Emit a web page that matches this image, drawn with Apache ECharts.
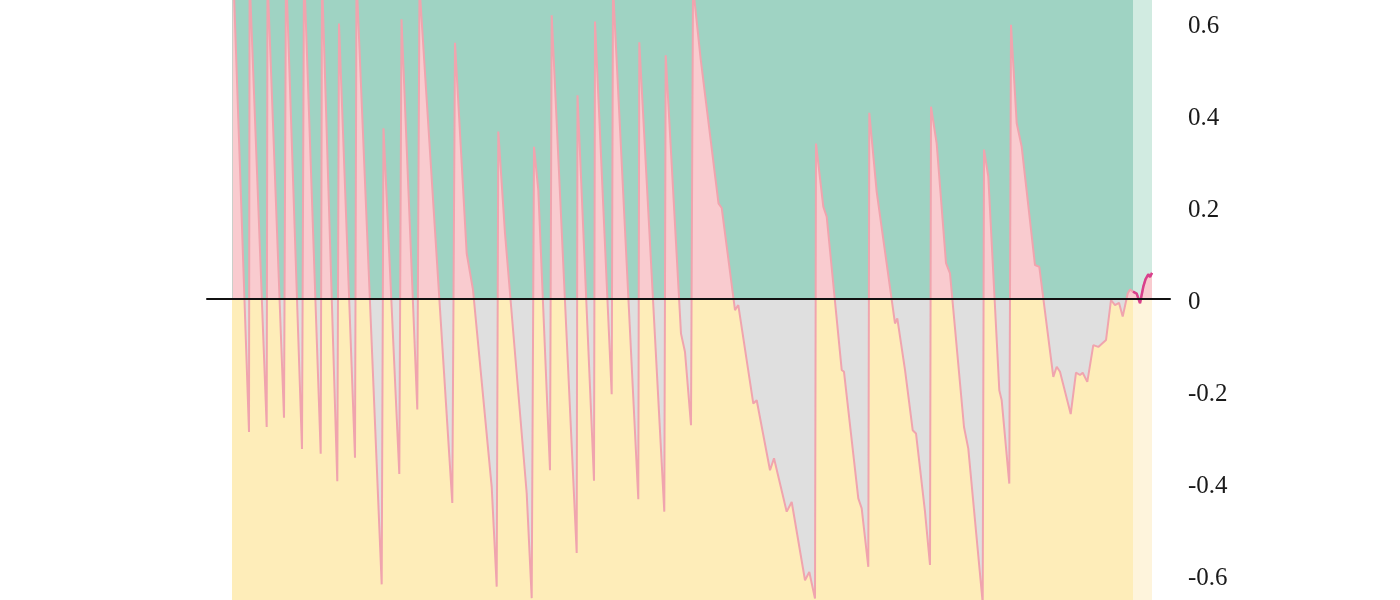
<!DOCTYPE html>
<html>
<head>
<meta charset="utf-8">
<script src="https://cdn.jsdelivr.net/npm/echarts@6/dist/echarts.min.js"></script>
<style>
html,body{margin:0;padding:0;background:#ffffff;}
#chart{width:1400px;height:600px;}
</style>
</head>
<body>
<div id="chart"></div>
<script>
// time index (sample position) of each vertex of the series
const t = [
  0.5, 17,
  17.6, 34.7,
  35.5, 52,
  54, 70,
  72, 88.7,
  90, 105.3,
  107, 123,
  124.5, 149.7,
  151.5, 167.3,
  169.5, 185.3,
  187.5, 220.3,
  223, 234.7, 241, 259.7, 264.7,
  266.3, 273, 294.7, 299.7,
  302, 306.3, 318,
  319.7, 344.7,
  345.5, 362,
  363, 379.7,
  381, 406.3,
  407.3, 432.3,
  433.7, 449, 453, 459,
  461, 468.5, 486.5, 489.7, 503, 506.3, 521.3, 524.7, 538, 542, 554.7, 559.7, 573, 577.3, 583,
  584, 591.3, 594.7, 609.7, 612, 626.3, 629.7, 636.3,
  637.3, 644.7, 663, 665.3, 673, 680.7, 684, 693, 698,
  699, 704.7, 714, 718, 732, 736.3, 750.7,
  752, 756.3, 767.3, 769.7, 777.3,
  779, 784.7, 789.7, 803, 807.3, 821.3, 824.7, 828, 838.7, 844, 848, 850.7, 855.3, 861.3, 866.3, 874, 879, 883, 887, 890.7, 895.7, 898, 901, 904.7, 908, 911.3, 913.5, 916.3, 918, 920
];
// value at each vertex
const v = [
  0.76, -0.289,
  0.70, -0.278,
  0.70, -0.258,
  0.72, -0.326,
  0.72, -0.336,
  0.70, -0.396,
  0.599, -0.345,
  0.70, -0.62,
  0.371, -0.38,
  0.608, -0.24,
  0.68, -0.443,
  0.557, 0.099, 0.02, -0.408, -0.625,
  0.364, 0.143, -0.422, -0.65,
  0.331, 0.237, -0.372,
  0.617, -0.552,
  0.443, -0.395,
  0.603, -0.207,
  0.68, -0.435,
  0.558, -0.462,
  0.530, -0.075, -0.115, -0.274,
  0.68, 0.525, 0.208, 0.198, -0.024, -0.013, -0.227, -0.22, -0.372, -0.346, -0.462, -0.441, -0.611, -0.593, -0.651,
  0.338, 0.201, 0.179, -0.154, -0.158, -0.433, -0.455, -0.582,
  0.405, 0.233, -0.053, -0.042, -0.154, -0.285, -0.292, -0.462, -0.578,
  0.418, 0.338, 0.078, 0.056, -0.278, -0.325, -0.66,
  0.325, 0.266, -0.198, -0.22, -0.401,
  0.596, 0.382, 0.331, 0.074, 0.07, -0.169, -0.147, -0.158, -0.25, -0.16, -0.165, -0.16, -0.18, -0.1, -0.104, -0.089, -0.002, -0.013, -0.008, -0.038, 0.012, 0.021, 0.016, 0.012, -0.009, 0.027, 0.043, 0.054, 0.048, 0.057
];
// start of the highlighted recent period and end of data
const recentStart = 901;
const dataEnd = 920;
// visible value range and labelled ticks
const yMin = -0.654, yMax = 0.65;
const yTickLabels = [-0.6, -0.4, -0.2, 0, 0.2, 0.4, 0.6];

const pts = t.map((x, i) => [x, v[i]]);
const recent = pts.filter(p => p[0] >= recentStart);

const chart = echarts.init(document.getElementById('chart'), null, {renderer: 'canvas'});

const zeroOff = yMax / (yMax - yMin);
const areaGrad = new echarts.graphic.LinearGradient(0, 0, 0, 600, [
  {offset: 0, color: '#f9cbcf'},
  {offset: zeroOff, color: '#f9cbcf'},
  {offset: zeroOff, color: '#dfdfdf'},
  {offset: 1, color: '#dfdfdf'}
], true);

chart.setOption({
  animation: false,
  backgroundColor: '#ffffff',
  grid: {left: 207, right: 230, top: 0, bottom: 0, containLabel: false},
  xAxis: {
    type: 'value', min: -25, max: 938,
    z: 10,
    axisLine: {show: true, onZero: true, lineStyle: {color: '#111111', width: 2}},
    axisTick: {show: false}, axisLabel: {show: false}, splitLine: {show: false}
  },
  yAxis: {
    type: 'value', position: 'right',
    min: yMin, max: yMax,
    axisLine: {show: false}, axisTick: {show: false}, splitLine: {show: false},
    axisLabel: {
      customValues: yTickLabels,
      margin: 18,
      formatter: function (val) { return '{n|' + String(Math.round(val * 10) / 10) + '}'; },
      rich: {
        n: {color: '#1a1a1a', fontFamily: 'Liberation Serif', fontSize: 25, padding: [6, 0, 0, 0]}
      }
    }
  },
  series: [
    {
      type: 'line', data: pts, symbol: 'none', z: 2,
      lineStyle: {color: '#f0a4ae', width: 2},
      areaStyle: {color: areaGrad, opacity: 1},
      markArea: {
        silent: true,
        data: [
          [{xAxis: 0, yAxis: 0, itemStyle: {color: '#9fd3c3'}}, {xAxis: recentStart, yAxis: yMax}],
          [{xAxis: 0, yAxis: yMin, itemStyle: {color: '#feedb9'}}, {xAxis: recentStart, yAxis: 0}],
          [{xAxis: recentStart, yAxis: 0, itemStyle: {color: '#d1ebe1'}}, {xAxis: dataEnd, yAxis: yMax}],
          [{xAxis: recentStart, yAxis: yMin, itemStyle: {color: '#fef4dc'}}, {xAxis: dataEnd, yAxis: 0}]
        ]
      }
    },
    {
      type: 'line', data: recent, symbol: 'none', z: 3,
      lineStyle: {color: '#d8408c', width: 2.5}
    }
  ]
});
</script>
</body>
</html>
